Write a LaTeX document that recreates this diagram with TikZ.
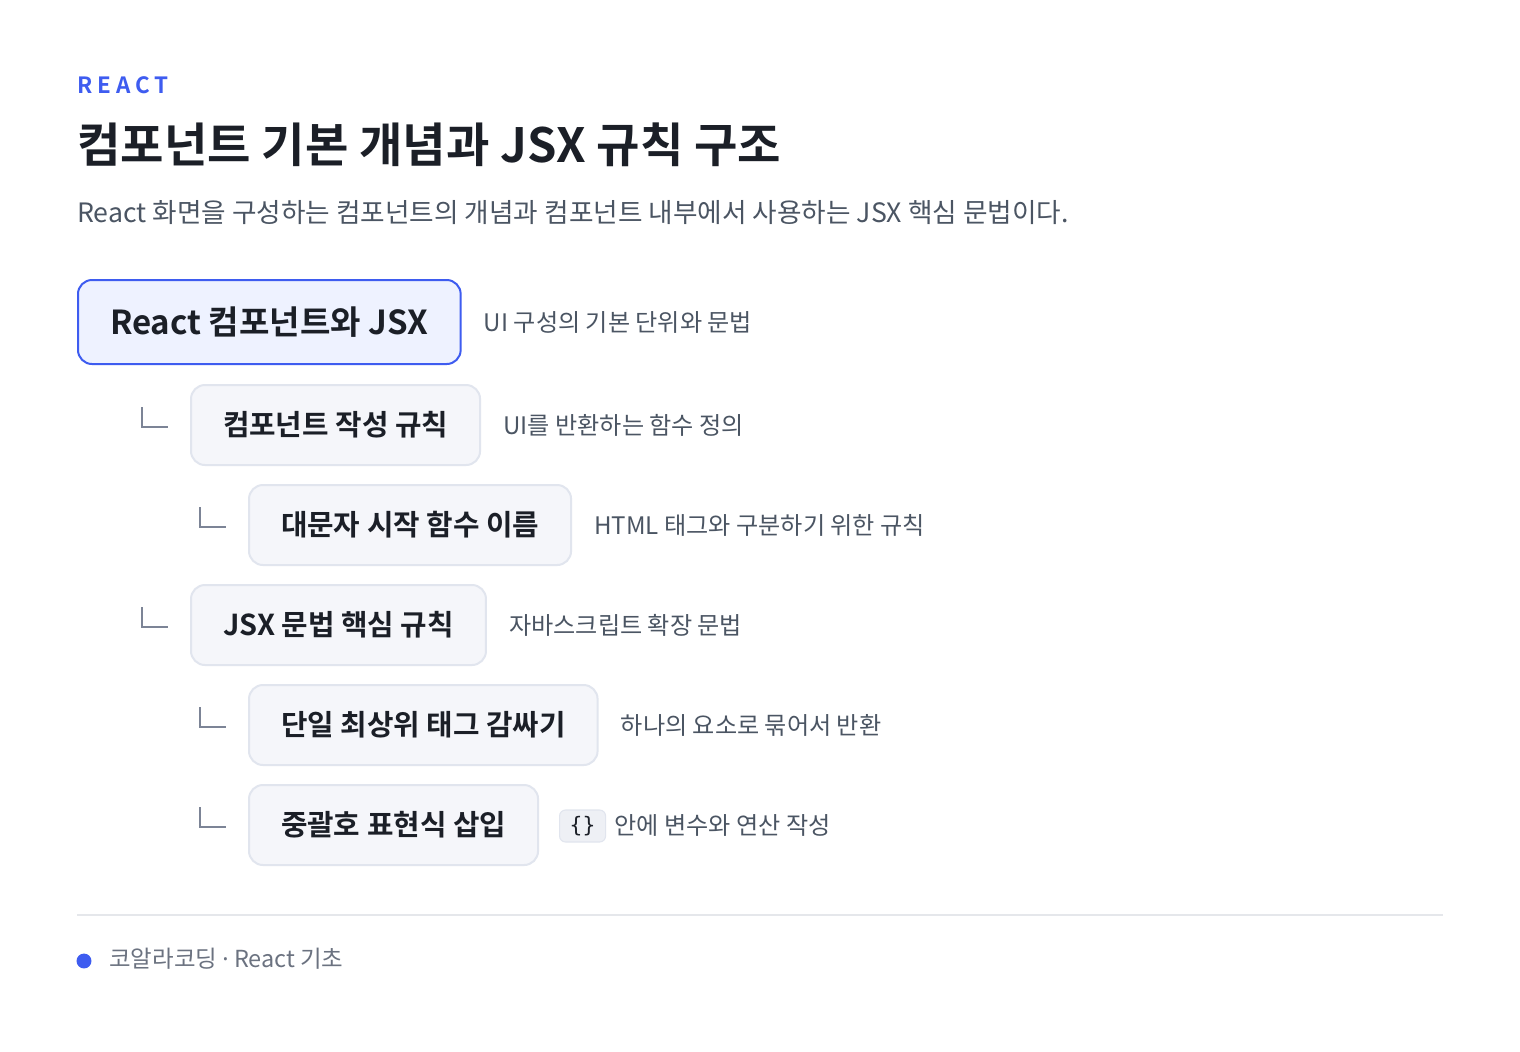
\documentclass[tikz,border=0pt]{standalone}
\usepackage{fontspec}
\setmainfont{Noto Sans CJK KR}[BoldFont={Noto Sans CJK KR Bold}]
\newfontfamily\codefont{DejaVu Sans Mono}
\newfontfamily\latinfont{Noto Sans}
\usetikzlibrary{calc}
\definecolor{accent}{HTML}{3E5CF0}
\definecolor{ink}{HTML}{1B1F27}
\definecolor{subgray}{HTML}{4B5563}
\definecolor{footgray}{HTML}{6B7280}
\definecolor{boxfill}{HTML}{F5F6FA}
\definecolor{boxline}{HTML}{E1E5EE}
\definecolor{rootfill}{HTML}{EEF2FF}
\definecolor{lmarkc}{HTML}{7C8496}
\definecolor{divc}{HTML}{E5E7EB}
\definecolor{chipfill}{HTML}{EEF0F5}
\tikzset{
  plain/.style={inner sep=0pt, anchor=west},
  rootbox/.style={draw=accent, line width=1.5pt, fill=rootfill, rounded corners=10.5pt,
    inner xsep=24pt, inner ysep=0pt, minimum height=63pt, anchor=west,
    font=\fontsize{24.8pt}{29pt}\selectfont\bfseries, text=ink},
  itembox/.style={draw=boxline, line width=1.5pt, fill=boxfill, rounded corners=10.5pt,
    inner xsep=24pt, inner ysep=0pt, minimum height=60pt, anchor=west,
    font=\fontsize{21.6pt}{26pt}\selectfont\bfseries, text=ink},
  desc/.style={inner sep=0pt, anchor=west, text=subgray,
    font=\fontsize{18.1pt}{22pt}\selectfont},
  lmark/.style={draw=lmarkc, line width=1.4pt},
  chip/.style={fill=chipfill, draw=boxline, line width=0.8pt, rounded corners=4.5pt,
    minimum width=34.5pt, minimum height=24pt, inner sep=0pt, anchor=west,
    text=ink, font=\codefont\fontsize{16pt}{18pt}\selectfont},
}
\begin{document}
\begin{tikzpicture}[x=0.75pt,y=-0.75pt]
\useasboundingbox[fill=white] (0,0) rectangle (1520,1051);

\node[plain, text=accent, font=\fontsize{16.8pt}{20pt}\selectfont\bfseries\addfontfeature{LetterSpace=22}] (kicker) at (77,85) {REACT};
\node[plain, text=ink, font=\fontsize{35.4pt}{42pt}\selectfont\bfseries] (title) at (77,145) {컴포넌트 기본 개념과 JSX 규칙 구조};
\node[plain, text=subgray, font=\fontsize{20pt}{24pt}\selectfont] (subtitle) at (77,213) {React 화면을 구성하는 컴포넌트의 개념과 컴포넌트 내부에서 사용하는 JSX 핵심 문법이다.};

\node[rootbox] (root) at (77,322) {React 컴포넌트와 JSX};
\node[desc] (rootd) at ($(root.east)+(22,0)$) {UI 구성의 기본 단위와 문법};

\node[itembox] (a) at (190,425) {컴포넌트 작성 규칙};
\node[desc] (ad) at ($(a.east)+(22,0)$) {UI를 반환하는 함수 정의};

\node[itembox] (a1) at (248,525) {대문자 시작 함수 이름};
\node[desc] (a1d) at ($(a1.east)+(22,0)$) {HTML 태그와 구분하기 위한 규칙};

\node[itembox] (b) at (190,625) {JSX 문법 핵심 규칙};
\node[desc] (bd) at ($(b.east)+(22,0)$) {자바스크립트 확장 문법};

\node[itembox] (b1) at (248,725) {단일 최상위 태그 감싸기};
\node[desc] (b1d) at ($(b1.east)+(22,0)$) {하나의 요소로 묶어서 반환};

\node[itembox] (b2) at (248,825) {중괄호 표현식 삽입};
\node[chip] (b2c) at ($(b2.east)+(20,1)$) {\{\}};
\node[desc] (b2d) at ($(b2c.east)+(8,-1)$) {안에 변수와 연산 작성};

\foreach \n in {a,a1,b,b1,b2}{
  \draw[lmark] ($(\n.west)+(-48,-18)$) |- ($(\n.west)+(-22,2)$);
}

\coordinate (dl) at (77,915);
\coordinate (dr) at (1443,915);
\draw[draw=divc, line width=1.5pt] (dl) -- (dr);

\fill[accent] (84,961) circle[radius=5.6pt];
\node[plain, text=footgray, font=\fontsize{17.6pt}{20pt}\selectfont] (foot) at (109,959) {코알라코딩 {\latinfont ·} React 기초};
\end{tikzpicture}
\end{document}
